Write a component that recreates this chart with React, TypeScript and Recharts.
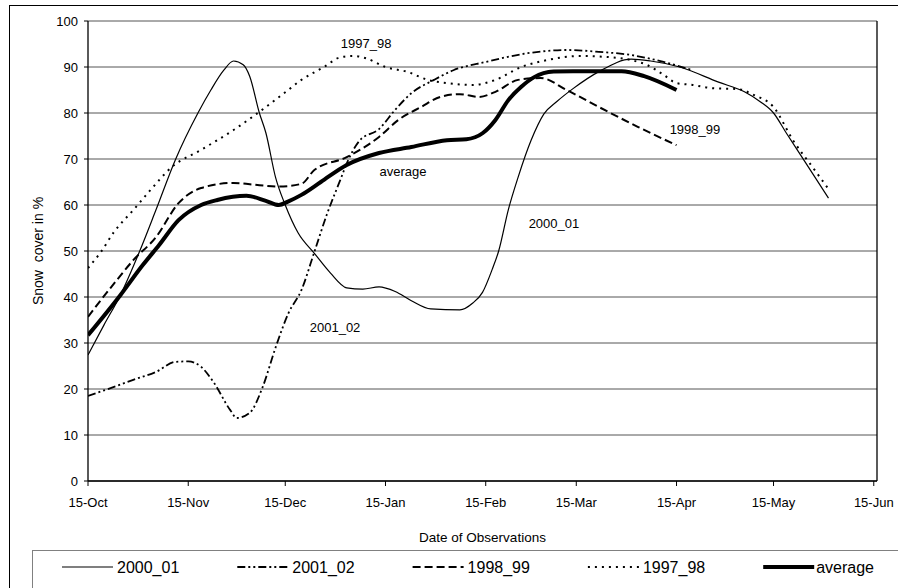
import React from 'react';
import { LineChart, Line, XAxis, YAxis, CartesianGrid, ReferenceLine, ReferenceDot, Label } from 'recharts';

// Days counted from 15-Oct
const tickDays = [0, 31, 61, 92, 123, 151, 182, 212, 243];
const tickLabels = ['15-Oct', '15-Nov', '15-Dec', '15-Jan', '15-Feb', '15-Mar', '15-Apr', '15-May', '15-Jun'];
const yTicks = [0, 10, 20, 30, 40, 50, 60, 70, 80, 90, 100];

const days2000_01 = [0, 5, 10, 16, 21, 27, 34, 38, 42, 45, 48, 50, 53, 55, 58, 61, 65, 70, 75, 80, 85, 90, 95, 100, 106, 115, 119, 122, 125, 127, 130, 133, 137, 141, 145, 150, 158, 168, 174, 183, 195, 203, 208, 212, 216, 222, 229];
const snow2000_01 = [27.4, 34, 40.4, 50, 58.9, 69.8, 80, 85, 89.3, 91.3, 90.5, 88, 80, 75.7, 66, 60, 53.9, 49.5, 45.2, 42, 41.7, 42.2, 41.2, 39.2, 37.4, 37.2, 38.7, 41, 46, 50, 59, 66, 74, 79.8, 82.5, 85.3, 89, 91.7, 91.3, 90, 86.7, 84.6, 82.4, 80, 75.6, 69.1, 61.5];

const days2001_02 = [0, 7, 14, 21, 27, 31, 35, 39, 44, 46, 50, 54, 58, 62, 66, 70, 74, 78, 80, 84, 90, 95, 100, 107, 113, 123, 136, 148, 158, 168, 178, 187];
const snow2001_02 = [18.5, 20.2, 22, 23.7, 25.9, 26, 24.8, 21.3, 15.4, 13.7, 14.8, 20.4, 29, 36.5, 41.5, 49.8, 58.2, 65.4, 69, 74, 76.5, 80.7, 84.3, 87.2, 89.3, 91.1, 93, 93.7, 93.3, 92.6, 91.1, 89.3];

const days1998_99 = [0, 7, 14, 21, 28, 35, 45, 53, 59, 66, 70, 80, 90, 96, 103, 109, 115, 121, 126, 133, 140, 148, 158, 170, 182];
const snow1998_99 = [35.7, 42, 48, 53, 60.4, 63.7, 64.8, 64.3, 64, 64.6, 67.6, 70.4, 74.8, 78.5, 81.3, 83.5, 84.1, 83.5, 84.6, 87.2, 87.6, 85, 81.3, 77, 73];

const days1997_98 = [0, 4, 8, 14, 19, 26, 35, 45, 55, 61, 66, 73, 78, 82, 86, 92, 99, 105, 111, 119, 126, 134, 142, 152, 160, 168, 173, 178, 182, 187, 193, 201, 206, 212, 218, 224, 229.5];
const snow1997_98 = [46.3, 49.8, 54.1, 58.9, 63, 68.3, 72, 76.3, 81.3, 84.5, 87.2, 90, 92.1, 92.4, 91.9, 90, 88.9, 87.2, 86.5, 86.1, 87.2, 90, 91.5, 92.4, 92.2, 91.5, 90.4, 88.3, 86.5, 86.1, 85.4, 85.2, 83.9, 81.3, 74.1, 68.3, 63];

const daysAverage = [0, 10, 17, 22, 28, 35, 40, 49, 55, 59, 62, 66, 72, 80, 90, 100, 111, 117, 122, 126, 130, 134, 138, 144, 150, 165, 172, 182];
const snowAverage = [31.7, 40.4, 47, 51.3, 56.7, 60, 61.1, 62, 60.9, 60, 60.8, 62.2, 65, 68.7, 71.3, 72.6, 74.1, 74.3, 75.6, 78.5, 82.8, 85.7, 87.8, 89, 89.1, 89.1, 88, 85];

const seriesNames = ['2000_01', '2001_02', '1998_99', '1997_98', 'average'];

// Inline labels: [name, day, value]
const labelNames = ['1997_98', 'average', '1998_99', '2000_01', '2001_02'];
const labelDays = [86, 97.4, 187.7, 144.1, 76.4];
const labelValues = [95.2, 67.4, 76.5, 56.1, 33.5];

const zip = (d: number[], v: number[]) => d.map((day, i) => ({ day, v: v[i] }));

const seriesData = [
  zip(days2000_01, snow2000_01),
  zip(days2001_02, snow2001_02),
  zip(days1998_99, snow1998_99),
  zip(days1997_98, snow1997_98),
  zip(daysAverage, snowAverage),
];

const seriesStyles = [
  { width: 1.2, dash: undefined as string | undefined },
  { width: 1.8, dash: '8 3 2 3 2 3' },
  { width: 2, dash: '8 4' },
  { width: 2, dash: '2 5' },
  { width: 4, dash: undefined as string | undefined },
];

const FONT = "Arial, 'Liberation Sans', sans-serif";

const YTitle = (props: any) => {
  const vb = props.viewBox || { y: 21, height: 460 };
  const cx = 38;
  const cy = vb.y + vb.height / 2;
  return (
    <text x={cx} y={cy} transform={`rotate(-90 ${cx} ${cy})`} textAnchor="middle" dominantBaseline="central"
      fontSize={14} fill="#000" fontFamily={FONT} style={{ whiteSpace: 'pre' }}>
      {'Snow  cover in %'}
    </text>
  );
};

const XTitle = (props: any) => {
  const vb = props.viewBox || { x: 88, width: 789 };
  const cx = vb.x + vb.width / 2;
  return (
    <text x={cx} y={537} textAnchor="middle" dominantBaseline="central" fontSize={13.5} fill="#000" fontFamily={FONT}>
      Date of Observations
    </text>
  );
};

export default function App() {
  return (
    <div style={{ position: 'absolute', left: 0, top: 0, width: 898, height: 588, overflow: 'hidden', background: '#fff', fontFamily: FONT }}>
      <div style={{ position: 'absolute', left: 9, top: 5, width: 900, height: 600, border: '1px solid #000' }} />
      <div style={{ position: 'absolute', left: 0, top: 0 }}>
        <LineChart width={898} height={588} margin={{ top: 21, right: 21, left: 0, bottom: 67 }}>
          <CartesianGrid horizontal vertical={false} stroke="#555" strokeOpacity={1} />
          <XAxis
            dataKey="day"
            type="number"
            domain={[0, 244]}
            allowDataOverflow
            ticks={tickDays}
            tickFormatter={(v: number) => tickLabels[tickDays.indexOf(v)] ?? ''}
            height={40}
            tickSize={5}
            tickMargin={12}
            stroke="#000"
            tick={{ fill: '#000', fontSize: 13, fontFamily: FONT }}
            axisLine={{ stroke: '#000', strokeWidth: 1.3 }}
            tickLine={{ stroke: '#000' }}
          >
            <Label content={XTitle} />
          </XAxis>
          <YAxis
            type="number"
            domain={[0, 100]}
            ticks={yTicks}
            width={88}
            tickSize={4}
            tickMargin={6}
            stroke="#000"
            tick={{ fill: '#000', fontSize: 13, fontFamily: FONT }}
            axisLine={{ stroke: '#000', strokeWidth: 1.3 }}
            tickLine={{ stroke: '#000' }}
          >
            <Label content={YTitle} />
          </YAxis>
          <ReferenceLine x={244} stroke="#000" strokeWidth={1.3} />
          {seriesData.map((d, i) => (
            <Line
              key={seriesNames[i]}
              name={seriesNames[i]}
              data={d}
              dataKey="v"
              type="monotone"
              stroke="#000"
              strokeWidth={seriesStyles[i].width}
              strokeDasharray={seriesStyles[i].dash}
              dot={false}
              activeDot={false}
              isAnimationActive={false}
            />
          ))}
          {labelNames.map((n, i) => (
            <ReferenceDot
              key={n}
              x={labelDays[i]}
              y={labelValues[i]}
              r={1}
              fill="none"
              stroke="none"
              label={{ value: n, position: 'center', fill: '#000', fontSize: 13, fontFamily: FONT }}
            />
          ))}
        </LineChart>
      </div>
      <div style={{ position: 'absolute', left: 32, top: 550, width: 900, height: 60, border: '1px solid #808080' }}>
        <svg width={880} height={40} style={{ display: 'block' }}>
          {seriesNames.map((n, i) => {
            const x0 = 29 + i * 175.3;
            return (
              <g key={n}>
                <line x1={x0} x2={x0 + 51} y1={16} y2={16} stroke="#000" strokeWidth={seriesStyles[i].width}
                  strokeDasharray={seriesStyles[i].dash} />
                <text x={x0 + (i === 4 ? 53 : 55)} y={16} dominantBaseline="central" fontSize={16} fill="#000" fontFamily={FONT}>
                  {n}
                </text>
              </g>
            );
          })}
        </svg>
      </div>
    </div>
  );
}
